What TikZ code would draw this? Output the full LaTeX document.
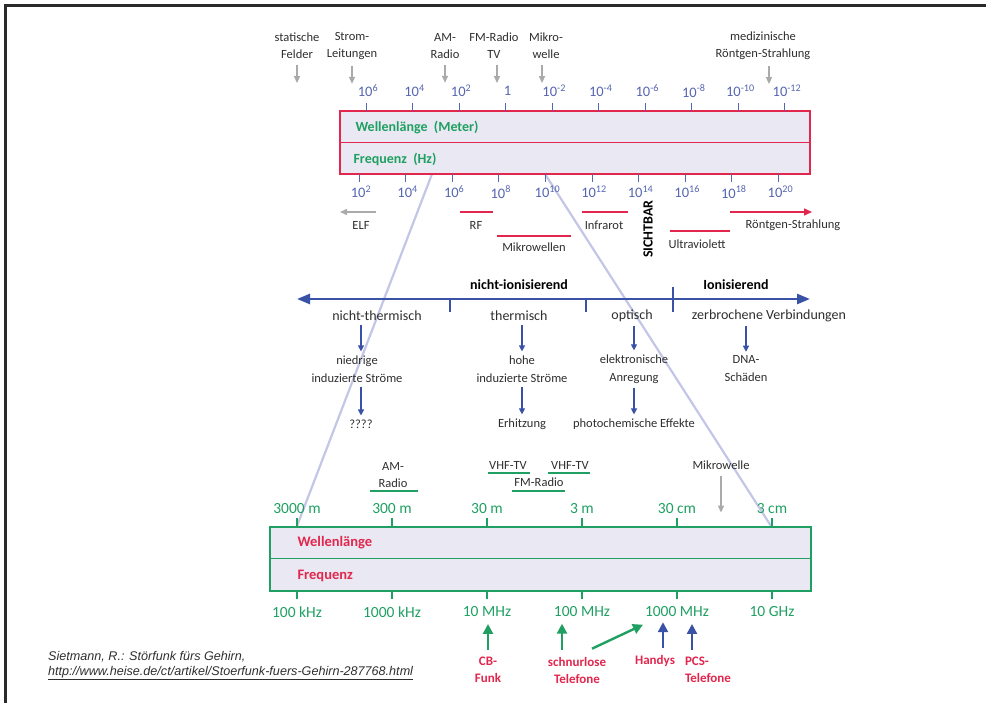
\documentclass[tikz,border=0pt]{standalone}
\usepackage{fontspec}
\setmainfont{Carlito}
\newfontfamily\citefont{Liberation Sans}
\usetikzlibrary{positioning,arrows.meta}
\definecolor{boxfill}{HTML}{EAE9F3}
\definecolor{redc}{HTML}{E2264D}
\definecolor{greenc}{HTML}{1FA062}
\definecolor{bluec}{HTML}{3A52A6}
\definecolor{ticktext}{HTML}{5565B0}
\definecolor{projc}{HTML}{C3C6E6}
\definecolor{grayc}{HTML}{AAAAAA}
\definecolor{darktext}{HTML}{2E2E2E}
\definecolor{framec}{HTML}{2A2A2A}

\tikzset{
  lbl/.style={text=darktext, font=\fontsize{12.5}{17}\selectfont, align=center, inner sep=1pt},
  midlbl/.style={text=darktext, font=\fontsize{14}{17}\selectfont, inner sep=1pt},
  sublbl/.style={text=darktext, font=\fontsize{12.5}{18}\selectfont, align=center, inner sep=1pt},
  boldlbl/.style={text=black, font=\fontsize{14}{17}\selectfont\bfseries, inner sep=1pt},
  ticknum/.style={text=ticktext, font=\fontsize{14.5}{16}\selectfont, inner sep=0pt},
  greennum/.style={text=greenc, font=\fontsize{15.5}{17}\selectfont, inner sep=0pt},
  redlbl/.style={text=redc, font=\fontsize{13}{17}\selectfont\bfseries, align=center, inner sep=1pt},
  tickline/.style={line width=1pt},
  grayarrow/.style={grayc, line width=1.5pt, -{Triangle[length=7pt,width=6pt]}},
  bluearrow/.style={bluec, line width=1.2pt, -{Triangle[length=6pt,width=6pt]}, shorten <=3pt, shorten >=3pt},
  bigarrow/.style={line width=2.4pt, -{Triangle[length=10pt,width=10pt]}},
  redline/.style={redc, line width=1.5pt},
  greenline/.style={greenc, line width=1.5pt},
  projline/.style={projc, line width=2.2pt},
}

\begin{document}
\begin{tikzpicture}[x=1pt, y=-1pt]
  \useasboundingbox (0,0) rectangle (986,703);
  \draw [framec, line width=3pt] (5,703) -- (5,6) -- (986,6);

  \coordinate (p1) at (432,174);
  \coordinate (p2) at (545,174);
  \coordinate (q1) at (297,526);
  \coordinate (q2) at (771,526);
  \draw [projline] (p1) -- (q1);
  \draw [projline] (p2) -- (q2);

  % oberer Balken
  \node [draw=redc, line width=2pt, fill=boxfill, minimum width=470pt, minimum height=63pt, inner sep=0pt] (topbox) at (575,142.5) {};
  \draw [redc, line width=1.2pt] (topbox.west) -- (topbox.east);
  \node [anchor=west, text=greenc, font=\fontsize{14}{16}\selectfont\bfseries] (wlen) at (352,127) {Wellenlänge\ \ (Meter)};
  \node [anchor=west, text=greenc, font=\fontsize{14}{16}\selectfont\bfseries] (freq) at (350,159) {Frequenz\ \ (Hz)};

  \foreach \lab [count=\i from 0] in {10\textsuperscript{6},10\textsuperscript{4},10\textsuperscript{2},1,10\textsuperscript{-2},10\textsuperscript{-4},10\textsuperscript{-6},10\textsuperscript{-8},10\textsuperscript{-10},10\textsuperscript{-12}} {
    \draw [ticktext, tickline] ({366+46.55*\i},103) -- ({366+46.55*\i},111);
    \node [ticknum] (wt\i) at ({368+46.55*\i},91) {\lab};
  }
  \foreach \lab [count=\i from 0] in {10\textsuperscript{2},10\textsuperscript{4},10\textsuperscript{6},10\textsuperscript{8},10\textsuperscript{10},10\textsuperscript{12},10\textsuperscript{14},10\textsuperscript{16},10\textsuperscript{18},10\textsuperscript{20}} {
    \draw [ticktext, tickline] ({359+46.6*\i},174) -- ({359+46.6*\i},182);
    \node [ticknum] (ft\i) at ({361+46.6*\i},192) {\lab};
  }

  \node [lbl] (stat) at (297,46) {statische\\Felder};
  \node [lbl] (strom) at (352,46) {Strom-\\Leitungen};
  \node [lbl] (amtop) at (445,46) {AM-\\Radio};
  \node [lbl] (fmtop) at (494,46) {FM-Radio\\TV};
  \node [lbl] (mwtop) at (546,46) {Mikro-\\welle};
  \node [lbl] (medi) at (763,46) {medizinische\\Röntgen-Strahlung};
  \draw [grayarrow, shorten <=5pt] (stat.south) -- ++(0,23);
  \draw [grayarrow, shorten <=5pt] (strom.south) -- ++(0,23);
  \draw [grayarrow, shorten <=5pt] (amtop.south) -- ++(0,23);
  \draw [grayarrow, shorten <=5pt] ([xshift=3pt]fmtop.south) -- ++(0,23);
  \draw [grayarrow, shorten <=5pt] ([xshift=-4pt]mwtop.south) -- ++(0,23);
  \draw [grayarrow, shorten <=5pt] ([xshift=6pt]medi.south) -- ++(0,23);

  \node [lbl] (elf) at (361,225) {ELF};
  \draw [grayarrow] (376,212) -- (340,212);
  \node [lbl] (rf) at (476,225) {RF};
  \draw [redline] (460,212) -- (493,212);
  \node [lbl] (mwl) at (534,247) {Mikrowellen};
  \draw [redline] (497,236) -- (571,236);
  \node [lbl] (ir) at (604,225) {Infrarot};
  \draw [redline] (582,212) -- (628,212);
  \node [boldlbl, rotate=90] (sicht) at (648,229) {SICHTBAR};
  \node [lbl] (uv) at (697,244) {Ultraviolett};
  \draw [redline] (670,231) -- (730,231);
  \node [lbl] (xray) at (793,225) {Röntgen-Strahlung};
  \draw [redline, -{Triangle[length=8pt,width=7pt]}] (730,212) -- (812,212);

  % mittlere Achse
  \coordinate (ml) at (297,299);
  \coordinate (mr) at (810,299);
  \draw [bluec, line width=2.5pt, {Triangle[length=13pt,width=10pt]}-{Triangle[length=13pt,width=10pt]}] (ml) -- (mr);
  \draw [bluec, line width=2pt] (450,299) -- (450,312);
  \draw [bluec, line width=2pt] (586,299) -- (586,312);
  \draw [bluec, line width=2pt] (673,287) -- (673,312);
  \node [boldlbl] (nion) at (519,285) {nicht-ionisierend};
  \node [boldlbl] (ion) at (736,285) {Ionisierend};

  \node [midlbl] (nt) at (377,316) {nicht-thermisch};
  \node [sublbl] (nts) at (357,369) {niedrige\\induzierte Ströme};
  \node [sublbl] (ntq) at (361,424) {????};
  \draw [bluearrow] (ntq |- nt.south) -- (ntq |- nts.north);
  \draw [bluearrow] (ntq |- nts.south) -- (ntq.north);

  \node [midlbl] (th) at (519,316) {thermisch};
  \node [sublbl] (ths) at (522,369) {hohe\\induzierte Ströme};
  \node [sublbl] (the) at (522,424) {Erhitzung};
  \draw [bluearrow] (the |- th.south) -- (the |- ths.north);
  \draw [bluearrow] (the |- ths.south) -- (the.north);

  \node [midlbl] (op) at (632,316) {optisch};
  \node [sublbl] (ops) at (634,369) {elektronische\\Anregung};
  \node [sublbl] (ope) at (634,424) {photochemische Effekte};
  \draw [bluearrow] (ope |- op.south) -- (ope |- ops.north);
  \draw [bluearrow] (ope |- ops.south) -- (ope.north);

  \node [midlbl] (zv) at (769,316) {zerbrochene Verbindungen};
  \node [sublbl] (dna) at (746,369) {DNA-\\Schäden};
  \draw [bluearrow] (dna |- zv.south) -- (dna.north);

  % unterer Balken
  \node [draw=greenc, line width=2pt, fill=boxfill, minimum width=541pt, minimum height=64pt, inner sep=0pt] (botbox) at (540.5,558.5) {};
  \draw [greenc, line width=1.2pt] (botbox.west) -- (botbox.east);
  \node [anchor=west, text=redc, font=\fontsize{14.5}{16}\selectfont\bfseries] (bwlen) at (294,543) {Wellenlänge};
  \node [anchor=west, text=redc, font=\fontsize{14.5}{16}\selectfont\bfseries] (bfreq) at (294,576) {Frequenz};

  \foreach \wl/\fr [count=\i from 0] in {3000 m/100 kHz,300 m/1000 kHz,30 m/10 MHz,3 m/100 MHz,30 cm/1000 MHz,3 cm/10 GHz} {
    \draw [greenc, line width=1.5pt] ({297+95*\i},518) -- ({297+95*\i},526);
    \draw [greenc, line width=1.5pt] ({297+95*\i},591) -- ({297+95*\i},599);
    \node [greennum] (bw\i) at ({297+95*\i},509) {\wl};
    \node [greennum] (bf\i) at ({297+95*\i},612) {\fr};
  }

  \node [lbl] (amb) at (393,475) {AM-\\Radio};
  \draw [greenline] (370,491) -- (418,491);
  \node [lbl] (vhf1) at (508,465) {VHF-TV};
  \draw [greenline] (488,473) -- (530,473);
  \node [lbl] (vhf2) at (570,465) {VHF-TV};
  \draw [greenline] (548,473) -- (590,473);
  \node [lbl] (fmb) at (539,482) {FM-Radio};
  \draw [greenline] (512,491) -- (565,491);
  \node [lbl] (mwb) at (721,465) {Mikrowelle};
  \draw [grayarrow, shorten <=5pt] (mwb.south) -- ++(0,42);

  \node [redlbl] (cb) at (488,670) {CB-\\Funk};
  \draw [bigarrow, greenc] ([yshift=6pt]cb.north) -- ++(0,-26);
  \node [redlbl] (snl) at (577,670) {schnurlose\\Telefone};
  \draw [bigarrow, greenc] ([xshift=-15pt,yshift=6pt]snl.north) -- ++(0,-26);
  \draw [bigarrow, greenc] ([xshift=15pt,yshift=7pt]snl.north) -- ++(51,-24);
  \node [redlbl] (handy) at (655,661) {Handys};
  \draw [bigarrow, bluec] ([xshift=8pt,yshift=6pt]handy.north) -- ++(0,-26);
  \node [redlbl, align=left] (pcs) at (708,670) {PCS-\\Telefone};
  \draw [bigarrow, bluec] ([xshift=-16pt,yshift=6pt]pcs.north) -- ++(0,-26);

  \node [anchor=west, text=darktext, font=\citefont\itshape\fontsize{12.6}{15}\selectfont, inner sep=0pt] (cite1) at (48,657) {Sietmann, R.: Störfunk fürs Gehirn,};
  \node [anchor=west, text=darktext, font=\citefont\itshape\fontsize{12.6}{15}\selectfont, inner sep=0pt] (cite2) at (48,673) {\underline{http://www.heise.de/ct/artikel/Stoerfunk-fuers-Gehirn-287768.html}};
\end{tikzpicture}
\end{document}
